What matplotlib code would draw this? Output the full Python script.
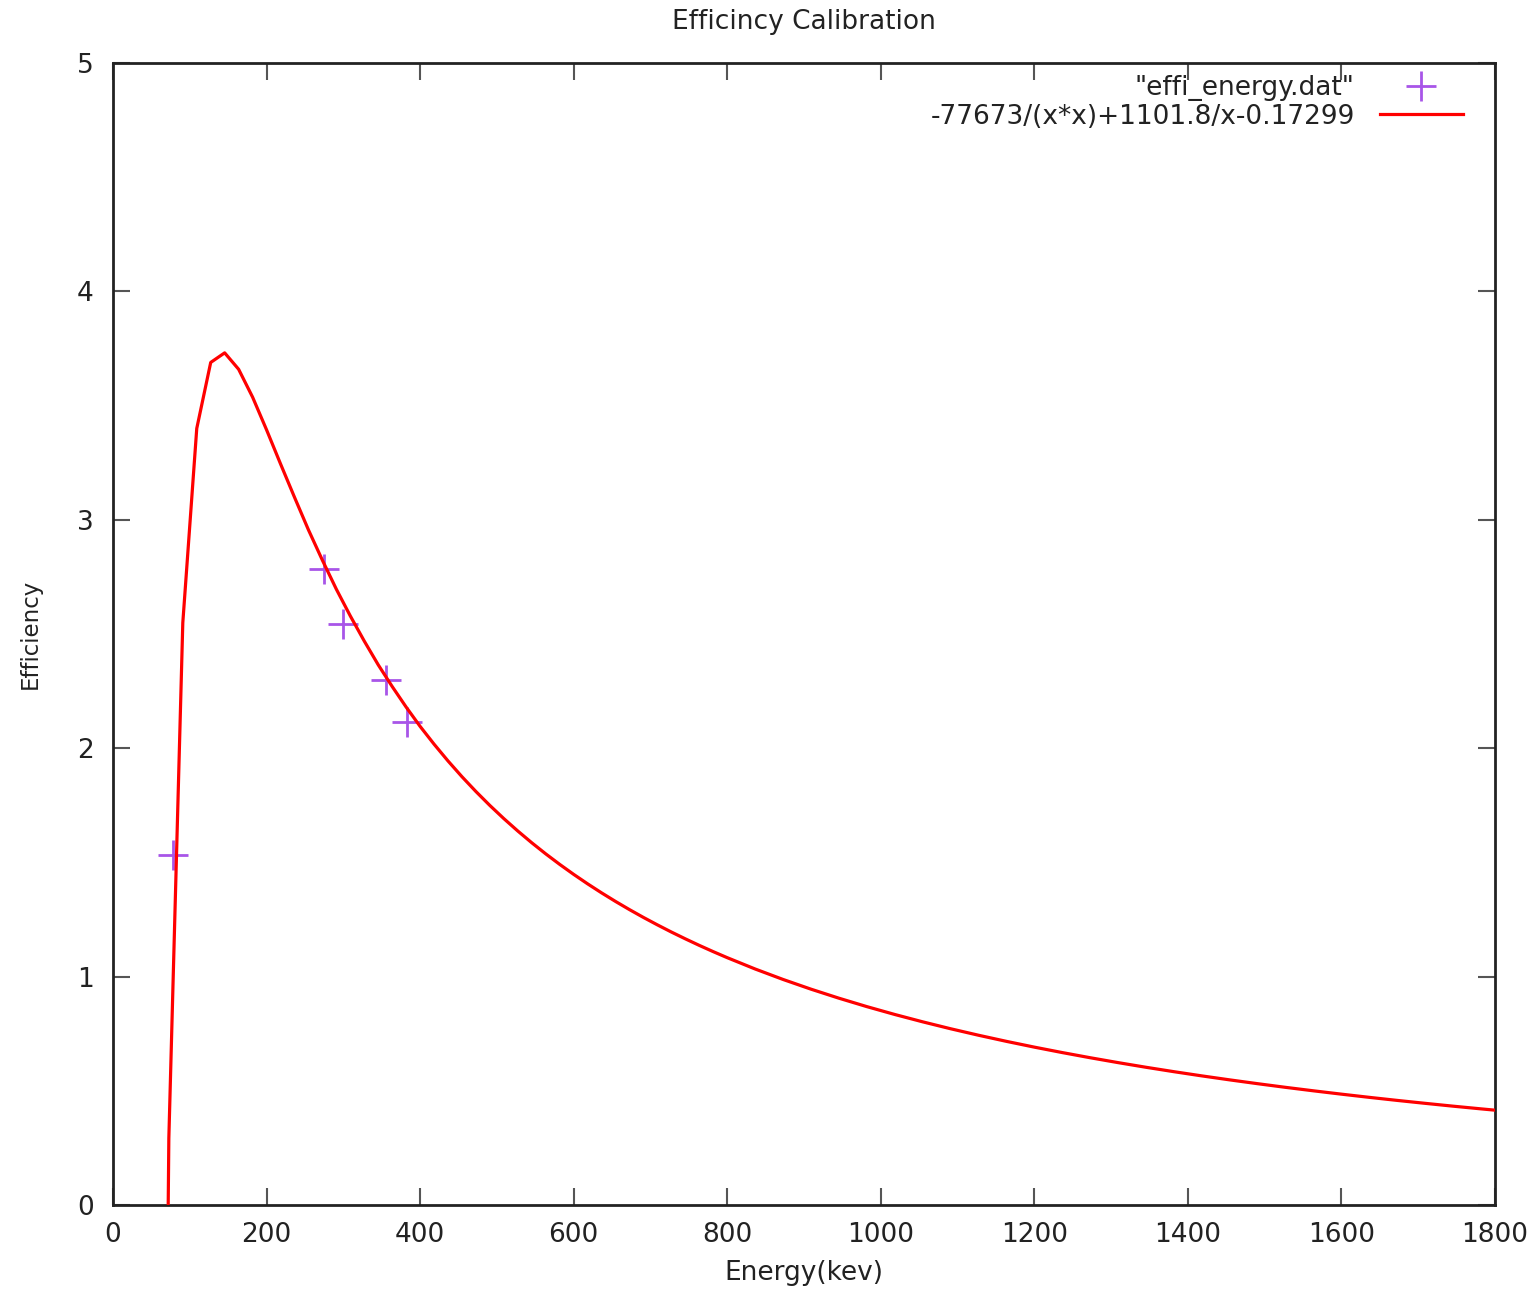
import matplotlib
matplotlib.use("Agg")
import matplotlib.pyplot as plt

# Measured data points (Energy, Efficiency)
data_energy = [78.5, 275.2, 300.0, 355.2, 382.5]
data_eff = [1.532, 2.783, 2.544, 2.299, 2.116]

# Fit curve values at the plotted sample positions
fit_energy = [54.55, 72.73, 90.91, 109.09, 127.27, 145.45, 163.64, 181.82, 200.00,
              218.18, 236.36, 254.55, 272.73, 290.91, 309.09, 327.27, 345.45,
              363.64, 381.82, 400.00, 418.18, 436.36, 454.55, 472.73, 490.91,
              509.09, 527.27, 545.45, 563.64, 581.82, 600.00, 618.18, 636.36,
              654.55, 672.73, 690.91, 709.09, 727.27, 745.45, 763.64, 781.82,
              800.00, 836.36, 872.73, 909.09, 945.45, 981.82, 1018.18, 1054.55,
              1090.91, 1127.27, 1163.64, 1200.00, 1236.36, 1272.73, 1309.09,
              1345.45, 1381.82, 1418.18, 1454.55, 1490.91, 1527.27, 1563.64,
              1600.00, 1636.36, 1672.73, 1709.09, 1745.45, 1781.82, 1800.00]
fit_eff = [-6.081, 0.292, 2.549, 3.400, 3.689, 3.731, 3.659, 3.537, 3.394,
           3.245, 3.099, 2.956, 2.823, 2.696, 2.579, 2.469, 2.365,
           2.270, 2.180, 2.0955, 2.0176, 1.9441, 1.8750, 1.8102, 1.7491,
           1.6916, 1.6373, 1.5859, 1.5373, 1.4913, 1.4476, 1.4061, 1.3666,
           1.3290, 1.2932, 1.2590, 1.2264, 1.1951, 1.1653, 1.1366, 1.1092,
           1.0829, 1.0333, 0.9875, 0.9450, 0.9055, 0.8686, 0.8342, 0.8020,
           0.7717, 0.7433, 0.7165, 0.6912, 0.6674, 0.6448, 0.6234,
           0.6030, 0.5837, 0.5653, 0.5478, 0.5311, 0.5151, 0.4999,
           0.4853, 0.4713, 0.4579, 0.4451, 0.4327, 0.4209, 0.4152]

x_ticks = [0, 200, 400, 600, 800, 1000, 1200, 1400, 1600, 1800]
y_ticks = [0, 1, 2, 3, 4, 5]

title = "Efficincy Calibration"
xlabel = "Energy(kev)"
ylabel = "Efficiency"
data_label = '"effi_energy.dat"'
fit_label = "-77673/(x*x)+1101.8/x-0.17299"

plt.rcParams['font.family'] = ['DejaVu Sans']
fs = 19
tc = '#222222'

W, H = 1537, 1292
L, R, T, B = 113, 1495, 63, 1205

fig = plt.figure(figsize=(W / 100, H / 100), dpi=100)
ax = fig.add_axes([L / W, 1 - B / H, (R - L) / W, (B - T) / H])

ax.plot(data_energy, data_eff, linestyle='none', marker='+', markersize=22,
        markeredgewidth=2.0, color='#a855e8', label=data_label, zorder=2)
ax.plot(fit_energy, fit_eff, color='#ff0000', linewidth=2.3, label=fit_label, zorder=3)

ax.set_xlim(0, 1800)
ax.set_ylim(0, 5)
ax.set_xticks(x_ticks)
ax.set_yticks(y_ticks)
ax.tick_params(direction='in', length=12, width=1.5, color='#555555',
               top=True, right=True, labelsize=fs, labelcolor=tc, pad=12)
ax.tick_params(axis='y', pad=14)
for s in ax.spines.values():
    s.set_linewidth(2)
    s.set_color(tc)

fig.text((L + R) / 2 / W, 1 - 22 / H, title, ha='center', va='center',
         fontsize=fs, color=tc)
ax.set_xlabel(xlabel, fontsize=fs, color=tc, va='center')
ax.xaxis.set_label_coords(0.5, (B - 1273) / (B - T))
ax.set_ylabel(ylabel, fontsize=16.5, color=tc, va='center')
ax.yaxis.set_label_coords((30 - L) / (R - L), 0.5)

leg = ax.legend(loc='upper right', frameon=False, markerfirst=False, fontsize=fs,
                handlelength=3.15, labelspacing=0.1, handletextpad=0.95,
                borderaxespad=0.0, borderpad=0.0,
                bbox_to_anchor=((1463 - L) / (R - L), (B - 75) / (B - T)))
for t in leg.get_texts():
    t.set_color(tc)

fig.savefig("out.png", dpi=100)
